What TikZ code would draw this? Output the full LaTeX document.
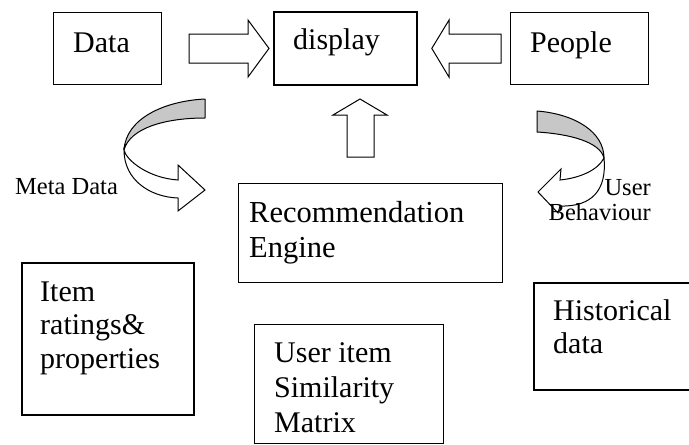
\documentclass[tikz,border=0pt]{standalone}
\usepackage{fontspec}
\setmainfont{Liberation Serif}
\usetikzlibrary{calc}
\begin{document}
\begin{tikzpicture}[x=1pt,y=-1pt,
  box/.style={draw=black, line width=#1, inner sep=0pt, anchor=north west, fill=white},
  box/.default=1.1pt,
  txt/.style={inner sep=0pt, font=\fontsize{30}{35}\selectfont, align=left, anchor=base west},
  small/.style={inner sep=0pt, font=\fontsize{24.5}{25}\selectfont},
  blk/.style={draw=black, line width=1pt, fill=white, line join=miter},
  band/.style={draw=black, line width=1pt, fill=black!22, line join=round}]
\fill[white] (0,0) rectangle (689,445);
\useasboundingbox (0,0) rectangle (689,445);

% boxes
\node[box=1pt, minimum width=108pt, minimum height=72pt] (data) at (53,12) {};
\node[box=1.8pt, minimum width=143pt, minimum height=73pt] (display) at (273,11) {};
\node[box=1.2pt, minimum width=138pt, minimum height=72pt] (people) at (510,12) {};
\node[box=1.2pt, minimum width=264pt, minimum height=99pt] (rec) at (238,183) {};
\node[box=1.8pt, minimum width=172pt, minimum height=152pt] (item) at (21,262) {};
\node[box=1.2pt, minimum width=189pt, minimum height=119pt] (useritem) at (254,324) {};
\node[box=1.6pt, minimum width=162pt, minimum height=107pt] (hist) at (533,282) {};

% box texts (base anchor = baseline of the last line)
\node[txt] (datat) at ($(data.north west)+(20,40)$) {Data};
\node[txt] (displayt) at ($(display.north west)+(20,38)$) {display};
\node[txt] (peoplet) at ($(people.north west)+(20,40)$) {People};
\node[txt, font=\fontsize{30.5}{35}\selectfont] (rect) at ($(rec.north west)+(11,74)$) {Recommendation\\Engine};
\node[txt, font=\fontsize{30}{33.5}\selectfont] (itemt) at ($(item.north west)+(19,106)$) {Item\\ratings\&\\properties};
\node[txt] (useritemt) at ($(useritem.north west)+(20,108)$) {User item\\Similarity\\Matrix};
\node[txt, font=\fontsize{30}{33}\selectfont] (histt) at ($(hist.north west)+(20,71)$) {Historical\\data};

% straight block arrows
\draw[blk] ($(data.east)+(27,-14.5)$) -- ++(59,0) -- ++(0,-14) -- ($(display.west)+(-4,0)$)
  -- ($(data.east)+(86,28.5)$) -- ++(0,-14) -- ++(-59,0) -- cycle;
\draw[blk] ($(people.west)+(-9,-14.5)$) -- ++(-52,0) -- ++(0,-14) -- ($(display.east)+(14,0)$)
  -- ($(people.west)+(-61,28.5)$) -- ++(0,-14) -- ++(52,0) -- cycle;
\draw[blk] (347,157) -- (347,115) -- (333,115) -- (360,99) -- (387,115) -- (374,115) -- (374,157) -- cycle;

% left curved arrow (Meta Data)
\coordinate (P) at (124,150);
\draw[band] (205,99) .. controls (165,101) and (126,118) .. (P)
  .. controls (130,128) and (165,118) .. (205,118) -- cycle;
\draw[blk] (P) .. controls (126,160) and (148,178) .. (178,180) -- (178,165) -- (205,190)
  -- (178,211) -- (178,198) .. controls (150,197) and (124,180) .. (P) -- cycle;

% right curved arrow (User Behaviour)
\coordinate (Q) at (604,158);
\draw[band] (537,111) .. controls (575,114) and (604,132) .. (Q)
  .. controls (600,142) and (570,134) .. (537,132) -- cycle;
\draw[blk] (Q) .. controls (598,170) and (580,178) .. (560,180) -- (561,169) -- (538,192)
  -- (558,213) -- (560,206) .. controls (592,207) and (607,190) .. (Q) -- cycle;

% free labels
\node[small, anchor=base west] (meta) at (15,194) {Meta Data};
\node[small, align=right, anchor=base east] (userbeh) at (651,220) {User\\Behaviour};
\end{tikzpicture}
\end{document}
